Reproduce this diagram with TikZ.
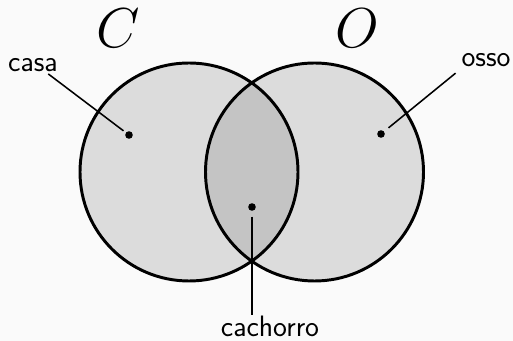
\RequirePackage{fix-cm}
\documentclass[tikz,border=0pt]{standalone}
\usepackage{tikz}
\definecolor{fundo}{RGB}{250,250,250}
\definecolor{conj}{RGB}{220,220,220}
\definecolor{inter}{RGB}{196,196,196}

\begin{document}
\begin{tikzpicture}[
  conjunto/.style={draw,line width=2.1pt},
  ponto/.style={circle,fill,inner sep=0pt,minimum size=.19cm},
  rotulo/.style={font=\sffamily\fontsize{21}{25}\selectfont,inner sep=1pt},
  letra/.style={font=\fontsize{40}{40}\selectfont,inner sep=0pt},
  ligacao/.style={line width=1.1pt}]
\fill[fundo] (0,0) rectangle (12.825,8.525);
\useasboundingbox (0,0) rectangle (12.825,8.525);
\coordinate (c) at (4.725,4.225);
\coordinate (o) at (7.8625,4.225);
% os dois conjuntos e a parte comum
\fill[conj] (c) circle (2.725);
\fill[conj] (o) circle (2.725);
\begin{scope}
\clip (c) circle (2.725);
\fill[inter] (o) circle (2.725);
\end{scope}
\draw[conjunto] (c) circle (2.725);
\draw[conjunto] (o) circle (2.725);
\node[letra] (lc) at (2.95,7.825) {$C$};
\node[letra] (lo) at (8.925,7.825) {$O$};
% elementos
\node[ponto] (pc) at (3.225,5.15) {};
\node[ponto] (po) at (9.525,5.175) {};
\node[ponto] (pm) at (6.3,3.35) {};
\node[rotulo,anchor=base] (casa) at (0.825,6.725) {casa};
\node[rotulo,anchor=base] (osso) at (12.15,6.85) {osso};
\node[rotulo,anchor=base] (cachorro) at (6.75,0.1) {cachorro};
\draw[ligacao,shorten >=2pt] ([xshift=-8pt]casa.south east) -- (pc);
\draw[ligacao,shorten >=4pt] ([shift={(-3pt,-3pt)}]osso.south west) -- (po);
\draw[ligacao,shorten <=4pt] (pm) -- (pm |- cachorro.north);
\end{tikzpicture}
\end{document}
